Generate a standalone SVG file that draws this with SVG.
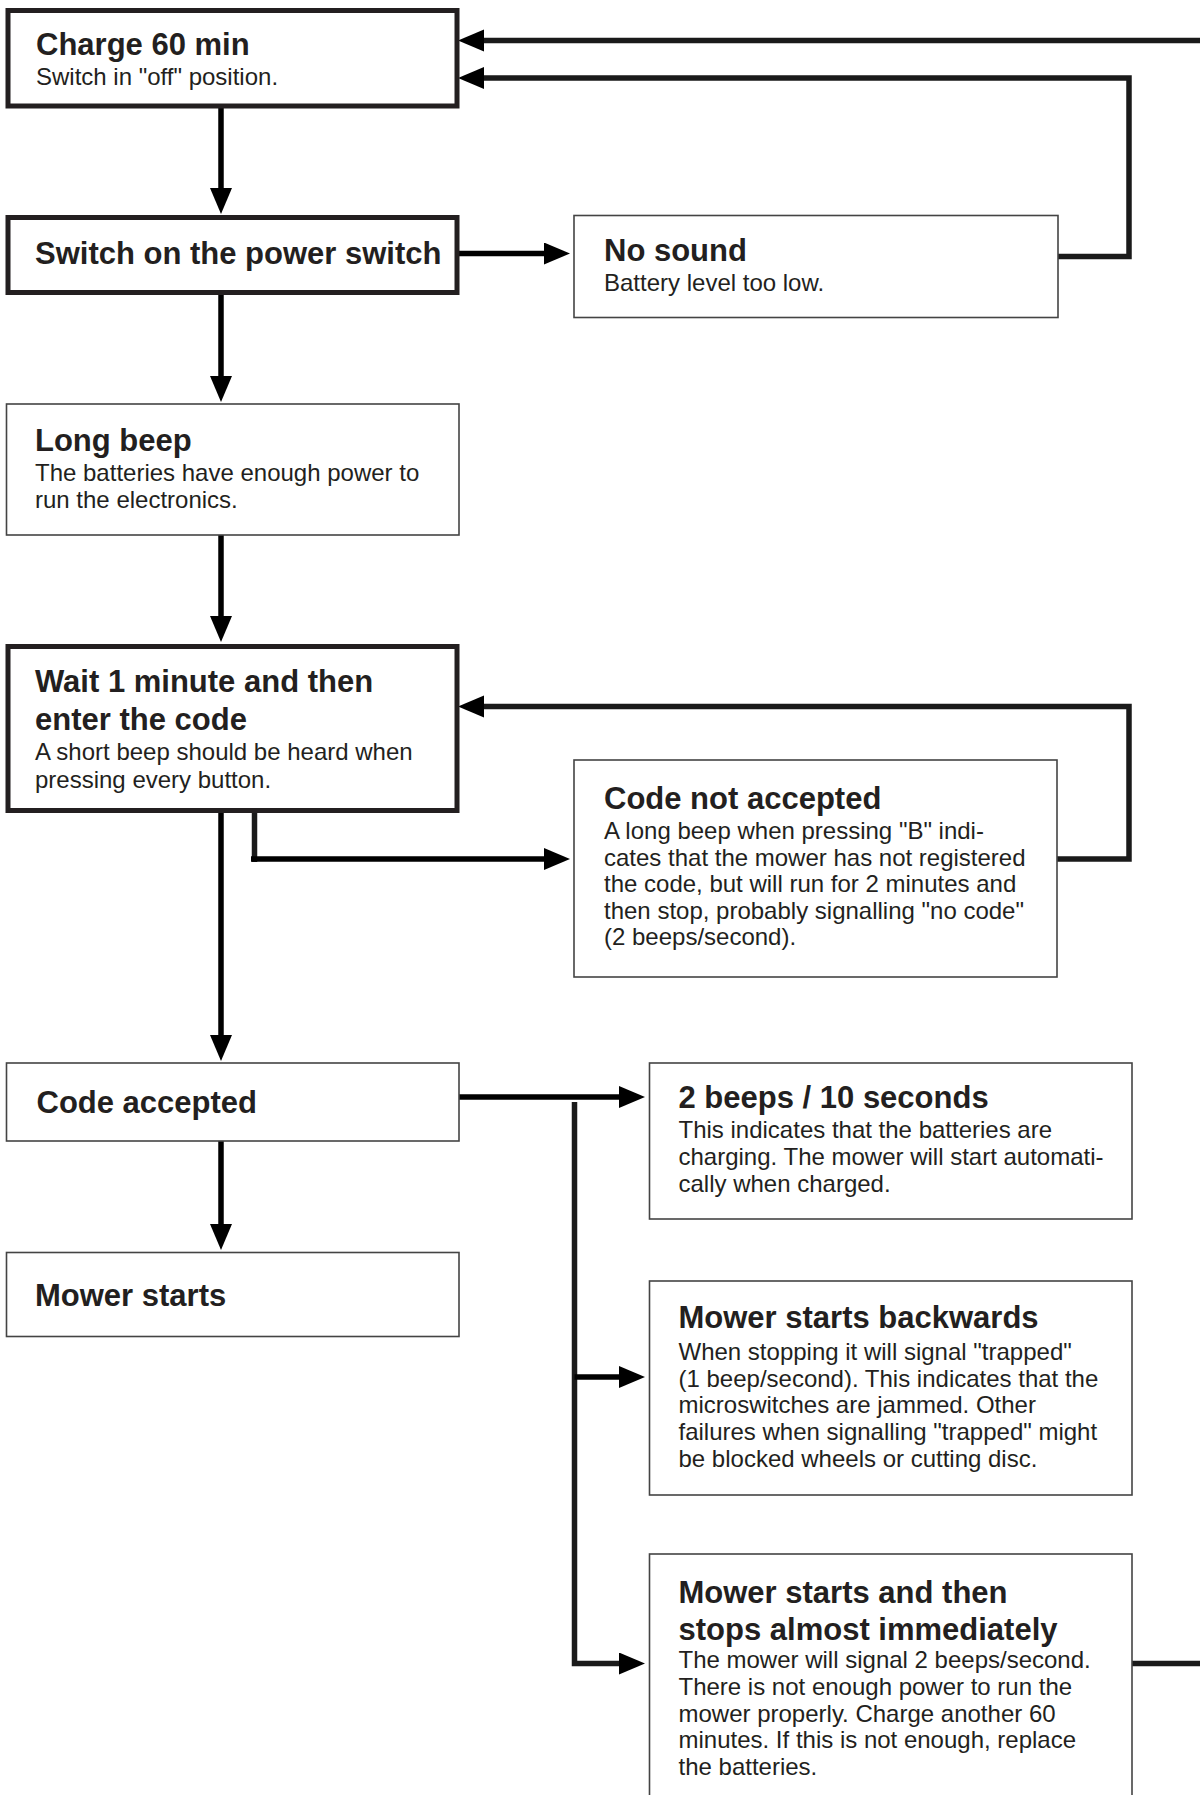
<svg xmlns="http://www.w3.org/2000/svg" width="1200" height="1795" viewBox="0 0 1200 1795">
<style>
.thick{fill:#fff;stroke:#231f20;stroke-width:5}
.thin{fill:#fff;stroke:#444;stroke-width:1.6}
.h{font-family:"Liberation Sans",Arial,Helvetica,sans-serif;font-weight:bold;font-size:31px;fill:#231f20}
.b{font-family:"Liberation Sans",Arial,Helvetica,sans-serif;font-size:24px;fill:#231f20}
.c{fill:none;stroke:#000;stroke-width:5.5}
.cl{fill:none;stroke:#1a1a1a;stroke-width:5.5}
</style>
<defs>
<marker id="ah" markerUnits="userSpaceOnUse" markerWidth="27" markerHeight="23" refX="2" refY="11" orient="auto">
<path d="M0,0 L26,11 L0,22 z" fill="#000"/>
</marker>
</defs>
<rect width="1200" height="1795" fill="#fff"/>
<g id="connectors">
<path class="c" d="M221,108 V190" marker-end="url(#ah)"/>
<path class="c" d="M221,295 V378" marker-end="url(#ah)"/>
<path class="c" d="M221,535 V618" marker-end="url(#ah)"/>
<path class="c" d="M221,812 V1037" marker-end="url(#ah)"/>
<path class="c" d="M221,1141 V1226" marker-end="url(#ah)"/>
<path class="c" d="M459,253.5 H546" marker-end="url(#ah)"/>
<path class="cl" d="M254.5,812 V862"/>
<path class="c" d="M251,859 H546" marker-end="url(#ah)"/>
<path class="cl" d="M1057,859 H1129 V706.5 H482" marker-end="url(#ah)"/>
<path class="cl" d="M1058,256.5 H1129 V78 H482" marker-end="url(#ah)"/>
<path class="cl" d="M1132,1663.5 H1215 V40.5 H482" marker-end="url(#ah)"/>
<path class="c" d="M459,1097 H621" marker-end="url(#ah)"/>
<path class="cl" d="M574.5,1102 V1663.5 H621" marker-end="url(#ah)"/>
<path class="c" d="M574.5,1377 H621" marker-end="url(#ah)"/>
</g>
<g id="charge">
<rect class="thick" x="8" y="10.5" width="449" height="95.5"/>
<text class="h" x="36" y="55">Charge 60 min</text>
<text class="b" x="36" y="85">Switch in "off" position.</text>
</g>
<g id="switch">
<rect class="thick" x="8" y="217.5" width="449" height="75"/>
<text class="h" x="35" y="264">Switch on the power switch</text>
</g>
<g id="nosound">
<rect class="thin" x="574" y="215.5" width="484" height="102"/>
<text class="h" x="604" y="260.7">No sound</text>
<text class="b" x="604" y="290.7">Battery level too low.</text>
</g>
<g id="longbeep">
<rect class="thin" x="6.5" y="404" width="452.5" height="131"/>
<text class="h" x="35" y="451">Long beep</text>
<text class="b" x="35" y="481">The batteries have enough power to</text>
<text class="b" x="35" y="508">run the electronics.</text>
</g>
<g id="wait">
<rect class="thick" x="8" y="646.5" width="449" height="164"/>
<text class="h" x="35" y="691.7">Wait 1 minute and then</text>
<text class="h" x="35" y="730">enter the code</text>
<text class="b" x="35" y="760">A short beep should be heard when</text>
<text class="b" x="35" y="788">pressing every button.</text>
</g>
<g id="codenotaccepted">
<rect class="thin" x="574" y="760" width="483" height="217"/>
<text class="h" x="604" y="809.3">Code not accepted</text>
<text class="b" x="604" y="839.3">A long beep when pressing "B" indi-</text>
<text class="b" x="604" y="865.5">cates that the mower has not registered</text>
<text class="b" x="604" y="892">the code, but will run for 2 minutes and</text>
<text class="b" x="604" y="918.5">then stop, probably signalling "no code"</text>
<text class="b" x="604" y="945">(2 beeps/second).</text>
</g>
<g id="codeaccepted">
<rect class="thin" x="6.5" y="1063" width="452.5" height="78"/>
<text class="h" x="36.5" y="1112.7">Code accepted</text>
</g>
<g id="mowerstarts">
<rect class="thin" x="6.5" y="1252.5" width="452.5" height="84"/>
<text class="h" x="35" y="1306">Mower starts</text>
</g>
<g id="twobeeps">
<rect class="thin" x="649.5" y="1063" width="482.5" height="156"/>
<text class="h" x="678.5" y="1108.3">2 beeps / 10 seconds</text>
<text class="b" x="678.5" y="1138.3">This indicates that the batteries are</text>
<text class="b" x="678.5" y="1165">charging. The mower will start automati-</text>
<text class="b" x="678.5" y="1191.7">cally when charged.</text>
</g>
<g id="backwards">
<rect class="thin" x="649.5" y="1281" width="482.5" height="214"/>
<text class="h" x="678.5" y="1328.3">Mower starts backwards</text>
<text class="b" x="678.5" y="1360">When stopping it will signal "trapped"</text>
<text class="b" x="678.5" y="1386.7">(1 beep/second). This indicates that the</text>
<text class="b" x="678.5" y="1413.3">microswitches are jammed. Other</text>
<text class="b" x="678.5" y="1440">failures when signalling "trapped" might</text>
<text class="b" x="678.5" y="1466.7">be blocked wheels or cutting disc.</text>
</g>
<g id="stops">
<rect class="thin" x="649.5" y="1554" width="482.5" height="270"/>
<text class="h" x="678.5" y="1602.7">Mower starts and then</text>
<text class="h" x="678.5" y="1640">stops almost immediately</text>
<text class="b" x="678.5" y="1668.3">The mower will signal 2 beeps/second.</text>
<text class="b" x="678.5" y="1695">There is not enough power to run the</text>
<text class="b" x="678.5" y="1721.7">mower properly. Charge another 60</text>
<text class="b" x="678.5" y="1748.4">minutes. If this is not enough, replace</text>
<text class="b" x="678.5" y="1775.1">the batteries.</text>
</g>
</svg>
